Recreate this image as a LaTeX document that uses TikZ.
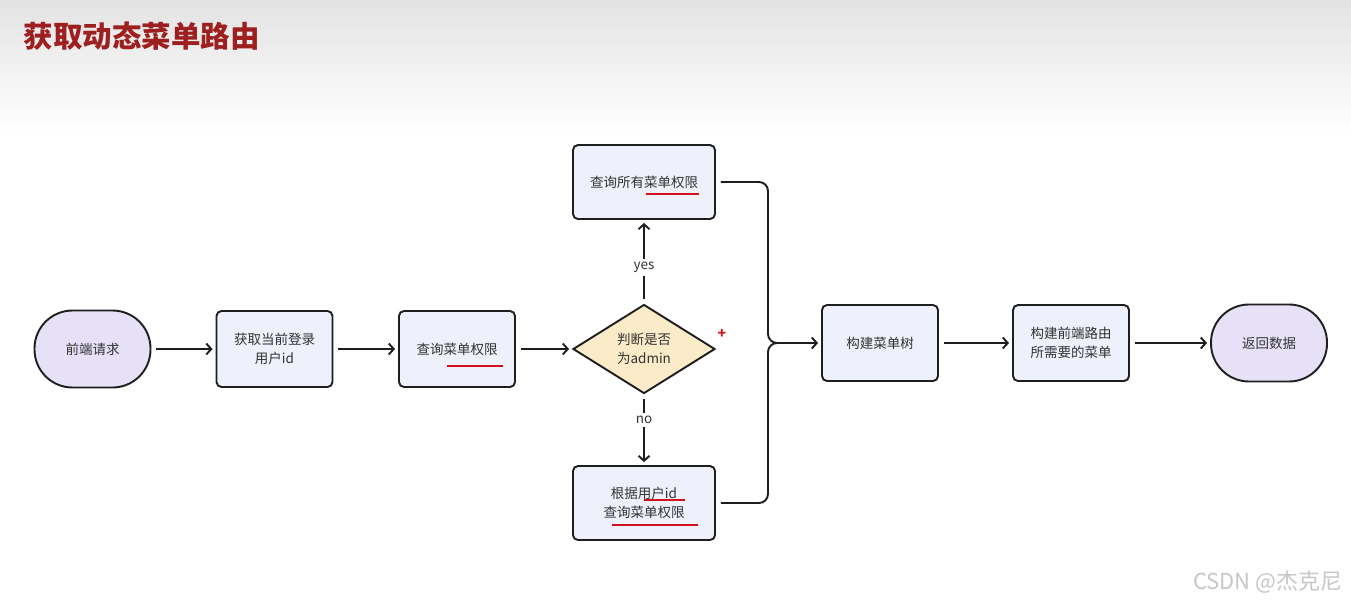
\documentclass[tikz,border=0pt]{standalone}
\usepackage{fontspec}
\setmainfont{Noto Sans CJK SC}
\usetikzlibrary{shapes.geometric,arrows.meta}
\definecolor{linec}{HTML}{1E1E1E}
\definecolor{boxfill}{HTML}{EEF0FB}
\definecolor{termfill}{HTML}{E7E1F8}
\definecolor{decfill}{HTML}{FBEBC9}
\definecolor{txt}{HTML}{333333}
\definecolor{titlered}{HTML}{9E1F1F}
\definecolor{ul}{HTML}{D0101A}
\begin{document}
\begin{tikzpicture}[x=1pt,y=-1pt,
  every node/.style={font=\fontsize{13.5}{19.5}\selectfont, text=txt},
  box/.style={draw=linec, line width=1.9pt, fill=boxfill, rounded corners=5pt,
    minimum width=116pt, minimum height=76pt, align=center, inner sep=0pt},
  term/.style={draw=linec, line width=1.9pt, fill=termfill, rounded corners=38pt,
    minimum width=116pt, minimum height=77pt, align=center, inner sep=0pt},
  dec/.style={draw=linec, line width=1.9pt, fill=decfill, diamond, aspect=1.6,
    minimum width=142pt, minimum height=89pt, align=center, inner sep=0pt},
  conn/.style={draw=linec, line width=1.9pt, shorten <=5pt, shorten >=3pt,
    -{Straight Barb[length=5pt,width=11pt]}},
  lbl/.style={fill=white, inner sep=3pt},
  uline/.style={draw=ul, line width=2pt}
]
\useasboundingbox (0,0) rectangle (1351,606);
\fill[white] (0,0) rectangle (1351,606);
\shade[top color=black!11, bottom color=white] (0,0) rectangle (1351,132);
\node[anchor=west, font=\fontsize{29.5}{32}\selectfont\bfseries, text=titlered] (title) at (20,36) {获取动态菜单路由};

\node[term] (req) at (92.5,349) {前端请求};
\node[box] (uid) at (274.5,349) {获取当前登录\\用户id};
\node[box] (q1) at (457,349) {查询菜单权限};
\node[dec] (d) at (644,349) {判断是否\\为admin};
\node[box, minimum width=142pt, minimum height=74pt] (qa) at (644,182) {查询所有菜单权限};
\node[box, minimum width=142pt, minimum height=74pt] (qu) at (644,503) {根据用户id\\查询菜单权限};
\node[box] (tree) at (880,343) {构建菜单树};
\node[box] (menu) at (1071,343) {构建前端路由\\所需要的菜单};
\node[term] (ret) at (1269,343) {返回数据};
\node[text=ul, font=\fontsize{14}{14}\selectfont\bfseries] (plus) at (722,334) {+};

\draw[conn] (req) -- (uid);
\draw[conn] (uid) -- (q1);
\draw[conn] (q1) -- (d);
\draw[conn] (d.north) -- node[lbl, pos=0.43] {yes} (qa.south);
\draw[conn] (d.south) -- node[lbl, pos=0.36] {no} (qu.north);
\coordinate (j) at (768,343);
\draw[conn, rounded corners=9pt] (qa.east) -- (qa.east -| j) -- (j) -- (tree.west);
\draw[draw=linec, line width=1.9pt, shorten <=5pt, rounded corners=9pt] (qu.east) -- (qu.east -| j) -- (j) -- ([xshift=12pt]j);
\draw[conn] (tree) -- (menu);
\draw[conn] (menu) -- (ret);

% red underlines
\draw[uline] (447,366) -- (503,366);
\draw[uline] (646,194) -- (699,194);
\draw[uline] (644,500) -- (685,500);
\draw[uline] (612,525) -- (698,525);

\node[anchor=east, text=black!22, font=\fontsize{22}{24}\selectfont] (wm) at (1346,582) {CSDN @杰克尼};
\end{tikzpicture}
\end{document}
